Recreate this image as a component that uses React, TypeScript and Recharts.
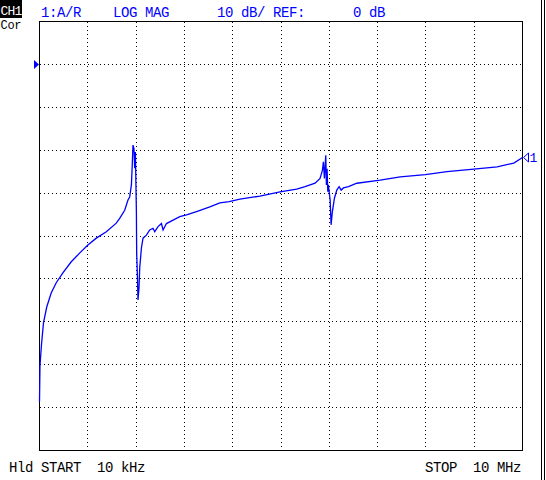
import React from 'react';
import {
  LineChart,
  Line,
  XAxis,
  YAxis,
  CartesianGrid,
  ReferenceArea,
  ReferenceDot,
} from 'recharts';

// sweep points (linear sweep 10 kHz .. 10 MHz)
const freqMHz = [
  0.01, 0.02, 0.051, 0.093, 0.161, 0.252, 0.356, 0.493, 0.667, 0.839,
  1.011, 1.185, 1.392, 1.598, 1.668, 1.772, 1.84, 1.875, 1.911, 1.931,
  1.944, 1.964, 1.979, 1.993, 2.014, 2.02, 2.035, 2.047, 2.068, 2.083,
  2.118, 2.151, 2.221, 2.29, 2.358, 2.393, 2.462, 2.532, 2.566, 2.636,
  2.773, 2.912, 3.05, 3.258, 3.533, 3.741, 3.933, 4.155, 4.57, 4.984,
  5.33, 5.502, 5.71, 5.813, 5.861, 5.882, 5.903, 5.931, 5.944, 5.958,
  5.973, 5.985, 6.021, 6.041, 6.068, 6.11, 6.159, 6.207, 6.249, 6.296,
  6.4, 6.574, 7.057, 7.471, 7.99, 8.439, 8.991, 9.476, 9.82, 10.0,
];

const magDb = [
  -78.6, -70.2, -65.3, -60.2, -56.5, -53.3, -50.9, -48.6, -46.0, -44.0,
  -42.1, -40.5, -39.0, -37.0, -35.9, -34.0, -31.6, -30.9, -28.1, -22.7,
  -18.8, -19.6, -24.2, -20.4, -34.4, -44.0, -49.1, -54.9, -52.1, -47.4,
  -42.8, -40.5, -39.8, -38.6, -38.2, -39.0, -37.8, -37.1, -38.6, -37.1,
  -36.3, -35.5, -35.1, -34.3, -33.2, -32.3, -32.0, -31.4, -30.7, -29.7,
  -29.1, -28.5, -27.7, -26.6, -24.7, -22.7, -26.6, -21.2, -28.1, -24.3,
  -29.7, -28.1, -31.6, -37.4, -34.3, -31.2, -29.3, -28.5, -29.3, -28.8,
  -28.5, -27.7, -27.0, -26.2, -25.7, -25.0, -24.4, -23.9, -23.0, -21.7,
];

const xTicks = [0.01, 1.009, 2.008, 3.007, 4.006, 5.005, 6.004, 7.003, 8.002, 9.001, 10];
const yTicks = [-90, -80, -70, -60, -50, -40, -30, -20, -10, 0, 10];
const refLevelDb = 0;

const channelLabel = 'CH1';
const corrLabel = 'Cor';
const headerLabels = ['1:A/R', 'LOG MAG', '10 dB/', 'REF:', '0 dB'];
const startLabel = 'Hld START  10 kHz';
const stopLabel = 'STOP  10 MHz';
const markerLabel = '1';

const data = freqMHz.map((f, i) => ({ f, db: magDb[i] }));

const BLUE = '#0000ff';
const mono = '"Liberation Mono", "DejaVu Sans Mono", monospace';

const RefArrow = (props: any) => {
  const { cx, cy } = props;
  return (
    <path
      d={`M${cx - 5.5},${cy - 4.5}L${cx - 0.5},${cy}L${cx - 5.5},${cy + 4.5}Z`}
      fill={BLUE}
    />
  );
};

const EndMarker = (props: any) => {
  const { cx, cy } = props;
  return (
    <g>
      <path
        d={`M${cx + 1},${cy}L${cx + 6},${cy - 4.5}L${cx + 6},${cy + 4.5}Z`}
        fill="none"
        stroke={BLUE}
        strokeWidth={1}
      />
      <text x={cx + 7} y={cy + 5} fill={BLUE} fontFamily={mono} fontSize={13}>
        {markerLabel}
      </text>
    </g>
  );
};

export default function App() {
  return (
    <div
      style={{
        position: 'absolute',
        left: 0,
        top: 0,
        width: 546,
        height: 480,
        background: '#fff',
        overflow: 'hidden',
      }}
    >
      <LineChart
        width={546}
        height={480}
        data={data}
        margin={{ top: 21.5, right: 23.5, bottom: 29.5, left: 39.5 }}
      >
        <XAxis dataKey="f" type="number" domain={[0.01, 10]} ticks={xTicks} hide />
        <YAxis type="number" domain={[-90, 10]} ticks={yTicks} hide />
        <CartesianGrid
          stroke="#000"
          strokeDasharray="1 3"
          shapeRendering="crispEdges"
        />
        <ReferenceArea
          x1={0.01}
          x2={10}
          y1={-90}
          y2={10}
          fill="none"
          stroke="#000"
          strokeWidth={1}
          shapeRendering="crispEdges"
        />
        <Line
          type="linear"
          dataKey="db"
          stroke={BLUE}
          strokeWidth={1.3}
          dot={false}
          isAnimationActive={false}
        />
        <ReferenceDot
          x={freqMHz[0]}
          y={refLevelDb}
          r={0}
          ifOverflow="visible"
          shape={RefArrow}
        />
        <ReferenceDot
          x={freqMHz[freqMHz.length - 1]}
          y={magDb[magDb.length - 1]}
          r={0}
          ifOverflow="visible"
          shape={EndMarker}
        />
      </LineChart>
      <svg
        width={546}
        height={480}
        style={{ position: 'absolute', left: 0, top: 0, pointerEvents: 'none' }}
      >
        <rect x={0} y={0} width={22} height={18} fill="#000" />
        <text x={0.5} y={15} fill="#fff" fontFamily={mono} fontSize={13} letterSpacing={-0.8}>
          {channelLabel}
        </text>
        <text x={0.5} y={29} fill="#000" fontFamily={mono} fontSize={12} letterSpacing={-0.3}>
          {corrLabel}
        </text>
        <g fill={BLUE} fontFamily={mono} fontSize={14} letterSpacing={-0.4}>
          <text x={41} y={17}>{headerLabels[0]}</text>
          <text x={113} y={17}>{headerLabels[1]}</text>
          <text x={217} y={17}>{headerLabels[2]}</text>
          <text x={273} y={17}>{headerLabels[3]}</text>
          <text x={353} y={17}>{headerLabels[4]}</text>
        </g>
        <g fill="#000" fontFamily={mono} fontSize={14} letterSpacing={-0.4}>
          <text x={9} y={472} style={{ whiteSpace: 'pre' }}>{startLabel}</text>
          <text x={425} y={472} style={{ whiteSpace: 'pre' }}>{stopLabel}</text>
        </g>
        <line x1={541.5} y1={0} x2={541.5} y2={480} stroke="#000" />
        <line x1={544.5} y1={0} x2={544.5} y2={480} stroke="#000" />
      </svg>
    </div>
  );
}
